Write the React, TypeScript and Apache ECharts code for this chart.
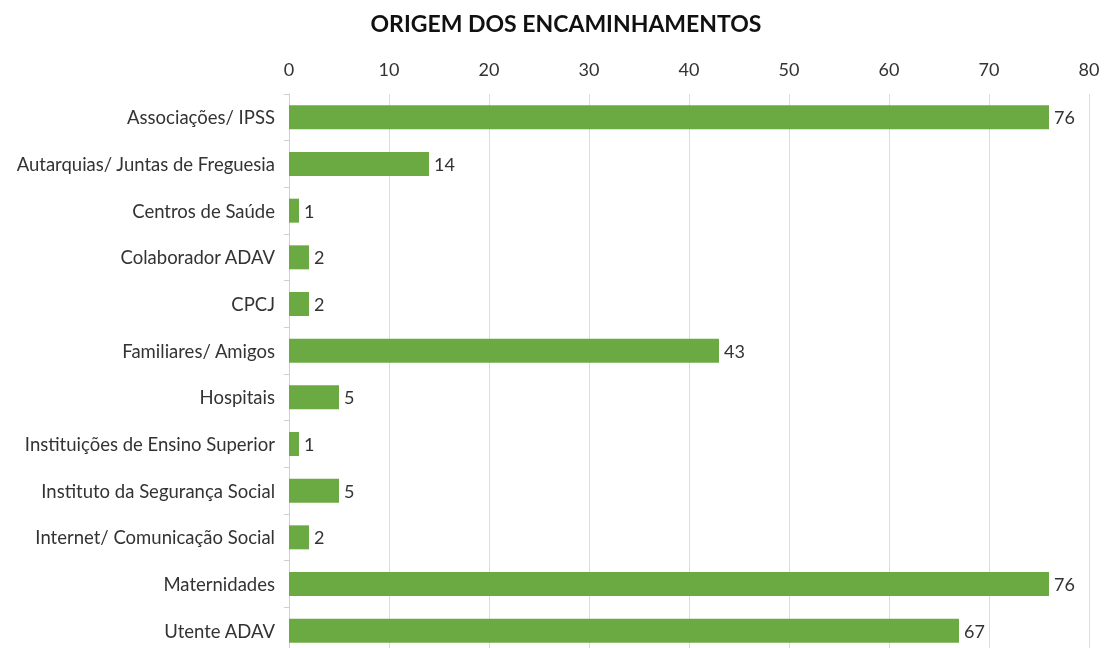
import React, { useEffect, useRef } from "react";
import * as echarts from "echarts";

const categories = [
  "Associações/ IPSS",
  "Autarquias/ Juntas de Freguesia",
  "Centros de Saúde",
  "Colaborador ADAV",
  "CPCJ",
  "Familiares/ Amigos",
  "Hospitais",
  "Instituições de Ensino Superior",
  "Instituto da Segurança Social",
  "Internet/ Comunicação Social",
  "Maternidades",
  "Utente ADAV",
];
const values = [76, 14, 1, 2, 2, 43, 5, 1, 5, 2, 76, 67];
const title = "ORIGEM DOS ENCAMINHAMENTOS";

export default function App() {
  const ref = useRef<HTMLDivElement>(null);
  useEffect(() => {
    if (!ref.current) return;
    const chart = echarts.init(ref.current, null, { renderer: "svg" });
    const font = "Lato, 'Open Sans', sans-serif";
    chart.setOption({
      animation: false,
      title: {
        text: title,
        left: 561,
        textAlign: "center",
        top: 6,
        textStyle: { fontFamily: font, fontSize: 23, fontWeight: "bold", color: "#111" },
      },
      grid: { left: 289, right: 17, top: 94, height: 560 },
      xAxis: {
        type: "value",
        position: "top",
        min: 0,
        max: 80,
        interval: 10,
        axisLine: { show: false },
        axisTick: { show: false },
        axisLabel: { fontFamily: font, fontSize: 18, color: "#333", margin: 16 },
        splitLine: { show: true, lineStyle: { color: "#dcdcdc", width: 1 } },
      },
      yAxis: {
        type: "category",
        data: categories,
        inverse: true,
        axisLine: { show: true, lineStyle: { color: "#d0d0d0" } },
        axisTick: { show: true, length: 5, lineStyle: { color: "#d0d0d0" } },
        axisLabel: { fontFamily: font, fontSize: 18.5, color: "#333", margin: 14 },
      },
      series: [
        {
          type: "bar",
          data: values,
          barWidth: 24,
          itemStyle: { color: "#6BAA43" },
          label: {
            show: true,
            position: "right",
            distance: 5,
            fontFamily: font,
            fontSize: 18,
            color: "#333",
          },
        },
      ],
    });
    return () => chart.dispose();
  }, []);
  return (
    <div style={{ position: "fixed", left: 0, top: 0, width: 1106, height: 648, overflow: "hidden" }}>
      <div ref={ref} style={{ width: 1106, height: 660 }} />
    </div>
  );
}
